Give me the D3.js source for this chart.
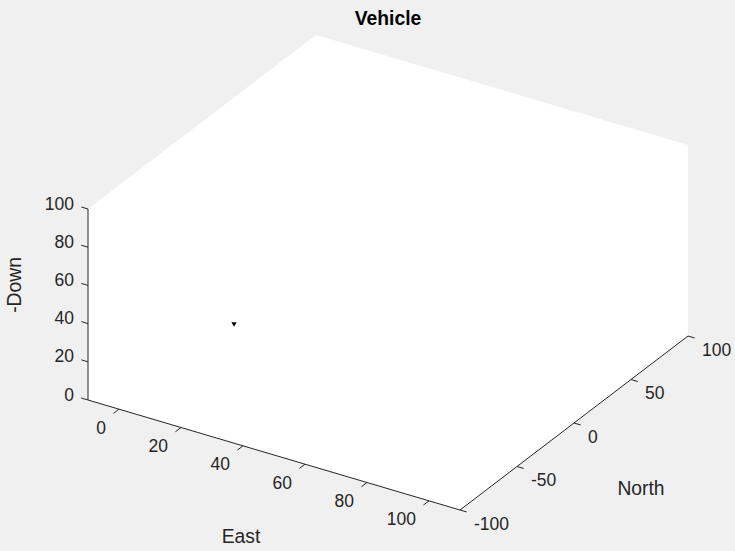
<!DOCTYPE html>
<html>
<head>
<meta charset="utf-8">
<script src="https://cdn.jsdelivr.net/npm/d3@7"></script>
<style>
  html, body { margin: 0; padding: 0; background: #f0f0f0; }
  svg { display: block; }
  text { font-family: "Liberation Sans", Arial, Helvetica, sans-serif; fill: #262626; }
</style>
</head>
<body>
<svg id="chart" width="735" height="551"></svg>
<script>
// axis limits and ticks
var eastLim = [-10, 110];
var northLim = [-100, 100];
var upLim = [0, 100];
var eastTicks = [0, 20, 40, 60, 80, 100];
var northTicks = [-100, -50, 0, 50, 100];
var upTicks = [0, 20, 40, 60, 80, 100];

// vehicle position (East, North, -Down)
var vehEast = [0];
var vehNorth = [0];
var vehUp = [0];

var svg = d3.select("#chart");

// normalized scales, then a fixed oblique view of the box
var sE = d3.scaleLinear().domain(eastLim).range([0, 1]);
var sN = d3.scaleLinear().domain(northLim).range([0, 1]);
var sU = d3.scaleLinear().domain(upLim).range([0, 1]);

var origin = [88, 400];
var vE = [372, 110], vN = [228, -174], vU = [0, -191];

function proj(e, n, u) {
  var a = sE(e), b = sN(n), c = sU(u);
  return [origin[0] + a * vE[0] + b * vN[0] + c * vU[0],
          origin[1] + a * vE[1] + b * vN[1] + c * vU[1]];
}

// white plot box (hexagon outline of the cube)
var hex = [
  proj(eastLim[0], northLim[0], upLim[0]),
  proj(eastLim[0], northLim[0], upLim[1]),
  proj(eastLim[0], northLim[1], upLim[1]),
  proj(eastLim[1], northLim[1], upLim[1]),
  proj(eastLim[1], northLim[1], upLim[0]),
  proj(eastLim[1], northLim[0], upLim[0])
];
svg.append("polygon")
  .attr("points", hex.map(function(p){ return p.join(","); }).join(" "))
  .attr("fill", "#ffffff");

var axisCol = "#262626";
function unit(v) { var l = Math.hypot(v[0], v[1]); return [v[0]/l, v[1]/l]; }
var uE = unit(vE), uN = unit(vN);
var tickLen = 7;

function line(p, q) {
  svg.append("line")
    .attr("x1", p[0]).attr("y1", p[1])
    .attr("x2", q[0]).attr("y2", q[1])
    .attr("stroke", axisCol).attr("stroke-width", 1);
}

// East axis (along North = min)
line(proj(eastLim[0], northLim[0], 0), proj(eastLim[1], northLim[0], 0));
eastTicks.forEach(function(t) {
  var p = proj(t, northLim[0], 0);
  line(p, [p[0] - uN[0] * tickLen, p[1] - uN[1] * tickLen]);
  svg.append("text")
    .attr("x", p[0] - 13).attr("y", p[1] + 20)
    .attr("text-anchor", "end").attr("dominant-baseline", "middle")
    .style("font-size", "17.5px")
    .text(t);
});

// North axis (along East = max)
line(proj(eastLim[1], northLim[0], 0), proj(eastLim[1], northLim[1], 0));
northTicks.forEach(function(t) {
  var p = proj(eastLim[1], t, 0);
  line(p, [p[0] + uE[0] * tickLen, p[1] + uE[1] * tickLen]);
  svg.append("text")
    .attr("x", p[0] + 14).attr("y", p[1] + 15)
    .attr("text-anchor", "start").attr("dominant-baseline", "middle")
    .style("font-size", "17.5px")
    .text(t);
});

// vertical axis (-Down)
line(proj(eastLim[0], northLim[0], upLim[0]), proj(eastLim[0], northLim[0], upLim[1]));
upTicks.forEach(function(t) {
  var p = proj(eastLim[0], northLim[0], t);
  line(p, [p[0] - uE[0] * tickLen, p[1] - uE[1] * tickLen]);
  svg.append("text")
    .attr("x", p[0] - 14).attr("y", p[1] - 4)
    .attr("text-anchor", "end").attr("dominant-baseline", "middle")
    .style("font-size", "17.5px")
    .text(t);
});

// vehicle
vehEast.forEach(function(e, i) {
  var p = proj(e, vehNorth[i], vehUp[i]);
  svg.append("path")
    .attr("d", d3.symbol(d3.symbolTriangle, 12)())
    .attr("transform", "translate(" + (p[0] + 1) + "," + (p[1] + 1.5) + ") rotate(180)")
    .attr("fill", "#000000");
});

// labels
svg.append("text").attr("x", 388).attr("y", 25)
  .attr("text-anchor", "middle")
  .style("font-size", "19.3px").style("font-weight", "bold").style("fill", "#000")
  .text("Vehicle");
svg.append("text").attr("x", 241).attr("y", 538)
  .attr("text-anchor", "middle").attr("dominant-baseline", "middle")
  .style("font-size", "19.3px")
  .text("East");
svg.append("text").attr("x", 641).attr("y", 490)
  .attr("text-anchor", "middle").attr("dominant-baseline", "middle")
  .style("font-size", "19.3px")
  .text("North");
svg.append("text")
  .attr("transform", "translate(16,285) rotate(-90)")
  .attr("text-anchor", "middle").attr("dominant-baseline", "middle")
  .style("font-size", "19.3px")
  .text("-Down");
</script>
</body>
</html>
